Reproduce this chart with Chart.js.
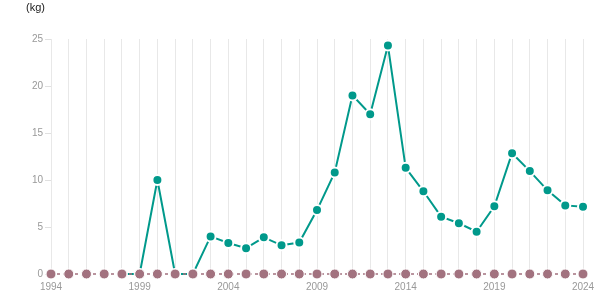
<!DOCTYPE html>
<html>
<head>
<meta charset="utf-8">
<script src="https://cdn.jsdelivr.net/npm/chart.js@4"></script>
<style>
  html, body { margin: 0; padding: 0; background: #fff; }
  #wrap { width: 615px; height: 305px; position: relative; }
</style>
</head>
<body>
<div id="wrap"><canvas id="c" width="615" height="305"></canvas></div>
<script>
// years on the x axis
var YEARS = [];
for (var y = 1994; y <= 2024; y++) YEARS.push(String(y));

// teal series (null = no data before 1998)
var TEAL_VALUES = [null, null, null, null, 0, 0, 10, 0, 0, 4.0,
  3.3, 2.75, 3.9, 3.05, 3.35, 6.8, 10.8, 19.0, 17.0, 24.3,
  11.3, 8.8, 6.1, 5.4, 4.5, 7.2, 12.85, 10.95, 8.9, 7.3, 7.15];

// brown series, flat zero for every year
var BROWN_VALUES = [0, 0, 0, 0, 0, 0, 0, 0, 0, 0,
  0, 0, 0, 0, 0, 0, 0, 0, 0, 0,
  0, 0, 0, 0, 0, 0, 0, 0, 0, 0, 0];

var Y_TICKS = [0, 5, 10, 15, 20, 25];
var LABEL_EVERY = 5;
var UNIT = "(kg)";

var TEAL = "#00998b";
var BROWN = "#a2727f";
var FONT = "'Liberation Sans', Arial, sans-serif";

var unitLabel = {
  id: "unitLabel",
  afterDraw: function (chart) {
    var ctx = chart.ctx;
    ctx.save();
    ctx.fillStyle = "#1a1a1a";
    ctx.font = "11px " + FONT;
    ctx.textBaseline = "middle";
    ctx.fillText(UNIT, 26, 8);
    ctx.restore();
  }
};

new Chart(document.getElementById("c"), {
  type: "line",
  data: {
    labels: YEARS,
    datasets: [
      {
        label: "brown",
        data: BROWN_VALUES,
        borderColor: BROWN,
        backgroundColor: BROWN,
        borderWidth: 1.5,
        borderDash: [3, 3],
        pointRadius: 5,
        pointBorderColor: "#fff",
        pointBorderWidth: 1,
        pointBackgroundColor: BROWN,
        clip: false,
        order: 0
      },
      {
        label: "teal",
        data: TEAL_VALUES,
        borderColor: TEAL,
        backgroundColor: TEAL,
        borderWidth: 2,
        spanGaps: false,
        pointRadius: 5,
        pointBorderColor: "#fff",
        pointBorderWidth: 2,
        pointBackgroundColor: TEAL,
        clip: false,
        order: 1
      }
    ]
  },
  options: {
    responsive: false,
    animation: false,
    layout: { padding: { top: 39, right: 32, left: 0, bottom: 0 } },
    plugins: { legend: { display: false }, tooltip: { enabled: false } },
    scales: {
      x: {
        offset: false,
        afterFit: function (s) { s.height = 31; },
        grid: { color: "#e8e8e8", lineWidth: 1, drawTicks: false },
        border: { display: false },
        ticks: {
          autoSkip: false, maxRotation: 0, padding: 7,
          color: "#999", font: { family: FONT, size: 10 },
          callback: function (v, i) { return i % LABEL_EVERY === 0 ? YEARS[i] : ""; }
        }
      },
      y: {
        min: 0, max: 25,
        afterFit: function (s) { s.width = 51; },
        afterBuildTicks: function (s) { s.ticks = Y_TICKS.map(function (v) { return { value: v }; }); },
        grid: { drawOnChartArea: false, drawTicks: true, tickLength: 6, color: "#e0e0e0" },
        border: { display: true, color: "#e8e8e8" },
        ticks: { padding: 2, color: "#999", font: { family: FONT, size: 10 } }
      }
    }
  },
  plugins: [unitLabel]
});
</script>
</body>
</html>
